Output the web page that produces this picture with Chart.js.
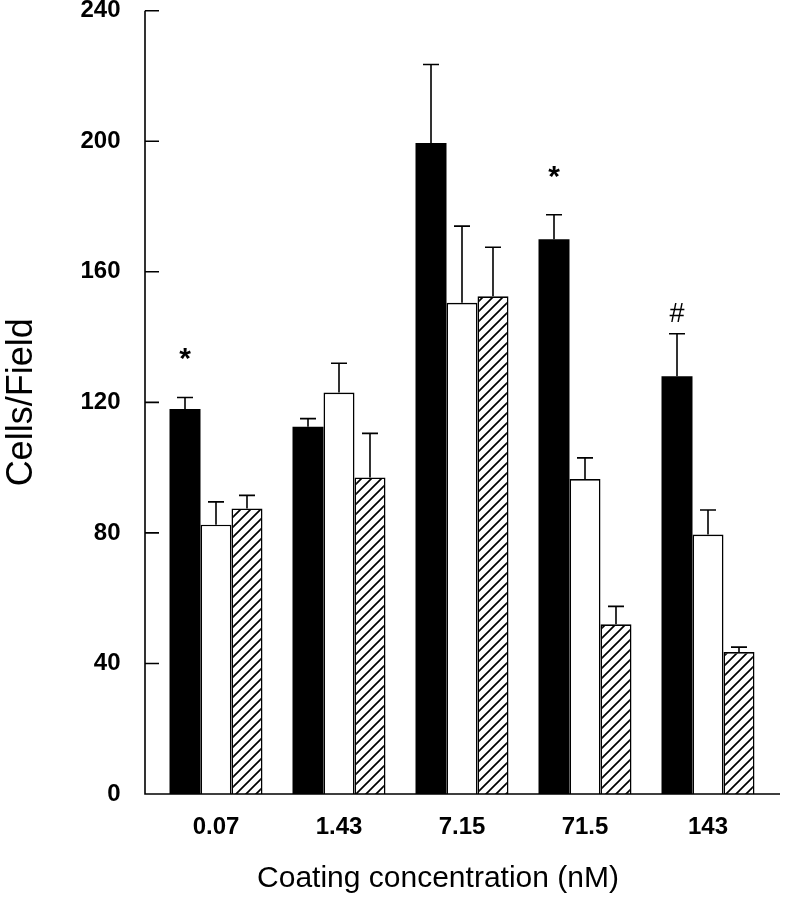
<!DOCTYPE html>
<html lang="en">
<head>
<meta charset="UTF-8">
<title>Cells/Field</title>
<script src="https://cdn.jsdelivr.net/npm/chart.js"></script>
<style>body{margin:0;background:#fff}</style>
</head>
<body>
<canvas id="myChart" width="791" height="899"></canvas>
<script>
// data
const categories = ['0.07', '1.43', '7.15', '71.5', '143'];
const blackVals = [118, 112.5, 199.5, 170, 128];
const blackErr = [3.5, 2.5, 24, 7.5, 13];
const whiteVals = [82.5, 123, 150.5, 96.5, 79.5];
const whiteErr = [7, 9, 23.5, 6.5, 7.5];
const hatchVals = [87.5, 97, 152.5, 52, 43.5];
const hatchErr = [4, 13.5, 15, 5.5, 1.5];
const marks = ['*', '', '', '*', '#'];   // above black bars
const yTicks = [0, 40, 80, 120, 160, 200, 240];

const FONT = "'Liberation Sans', Arial, sans-serif";
const ctx = document.getElementById('myChart');
const g = ctx.getContext('2d');

// diagonal hatch  ///
function makeHatch() {
  const n = 10;
  const c = document.createElement('canvas');
  c.width = n; c.height = n;
  const h = c.getContext('2d');
  h.fillStyle = '#fff';
  h.fillRect(0, 0, n, n);
  h.strokeStyle = '#000';
  h.lineWidth = 1.7;
  h.beginPath();
  h.moveTo(-1, n + 1); h.lineTo(n + 1, -1);
  h.moveTo(-1, 1); h.lineTo(1, -1);
  h.moveTo(n - 1, n + 1); h.lineTo(n + 1, n - 1);
  h.stroke();
  return g.createPattern(c, 'repeat');
}

const vals = [blackVals, whiteVals, hatchVals];
const errs = [blackErr, whiteErr, hatchErr];

const extras = {
  id: 'extras',
  afterDatasetsDraw(chart) {
    const c = chart.ctx, y = chart.scales.y, area = chart.chartArea;
    c.save();
    c.strokeStyle = '#000';
    c.lineWidth = 1.6;
    // error bars (upper only)
    errs.forEach((err, di) => {
      chart.getDatasetMeta(di).data.forEach((bar, i) => {
        const top = y.getPixelForValue(vals[di][i]);
        const cap = y.getPixelForValue(vals[di][i] + err[i]);
        c.beginPath();
        c.moveTo(bar.x, top); c.lineTo(bar.x, cap);
        c.moveTo(bar.x - 8, cap); c.lineTo(bar.x + 8, cap);
        c.stroke();
      });
    });
    // axis lines and inward ticks
    const ax = area.left - 9.5;
    c.beginPath();
    c.moveTo(ax, area.top); c.lineTo(ax, area.bottom);
    c.lineTo(area.right + 10.5, area.bottom);
    yTicks.forEach(t => {
      const py = y.getPixelForValue(t);
      c.moveTo(ax, py); c.lineTo(ax + 14, py);
    });
    c.stroke();
    // significance marks
    c.fillStyle = '#000';
    c.textAlign = 'center';
    c.textBaseline = 'alphabetic';
    chart.getDatasetMeta(0).data.forEach((bar, i) => {
      if (!marks[i]) return;
      const cap = y.getPixelForValue(blackVals[i] + blackErr[i]);
      if (marks[i] === '*') {
        c.font = 'bold 30px ' + FONT;
        c.fillText(marks[i], bar.x, cap - 29);
      } else {
        c.font = '27px ' + FONT;
        c.fillText(marks[i], bar.x, cap - 12);
      }
    });
    // x axis title
    c.font = '30px ' + FONT;
    c.fillText('Coating concentration (nM)', 438, 887);
    c.restore();
  }
};

const myChart = new Chart(ctx, {
  type: 'bar',
  data: {
    labels: categories,
    datasets: [
      { label: 'black', data: blackVals, backgroundColor: '#000', borderColor: '#000', borderWidth: 0 },
      { label: 'white', data: whiteVals, backgroundColor: '#fff', borderColor: '#000', borderWidth: 1.6, borderSkipped: 'bottom' },
      { label: 'hatched', data: hatchVals, backgroundColor: makeHatch(), borderColor: '#000', borderWidth: 1.6, borderSkipped: 'bottom' }
    ]
  },
  options: {
    responsive: false,
    animation: false,
    layout: { padding: { top: 10.7, right: 21.5, bottom: 0, left: 0 } },
    datasets: { bar: { categoryPercentage: 0.756, barPercentage: 1.0 } },
    plugins: { legend: { display: false }, tooltip: { enabled: false } },
    scales: {
      x: {
        grid: { display: false, drawTicks: false },
        border: { display: false },
        ticks: { color: '#000', padding: 19, font: { family: FONT, size: 24, weight: 'bold' } },
        afterFit: s => { s.height = 105; }
      },
      y: {
        min: 0, max: 240,
        grid: { display: false, drawTicks: false },
        border: { display: false },
        afterBuildTicks: s => { s.ticks = yTicks.map(v => ({ value: v })); },
        ticks: { color: '#000', padding: 34, font: { family: FONT, size: 24, weight: 'bold' } },
        title: { display: true, text: 'Cells/Field', color: '#000', padding: 0, font: { family: FONT, size: 36 } },
        afterFit: s => { s.width = 154.5; s.paddingTop = 0; s.paddingBottom = 0; }
      }
    }
  },
  plugins: [extras]
});
</script>
</body>
</html>
